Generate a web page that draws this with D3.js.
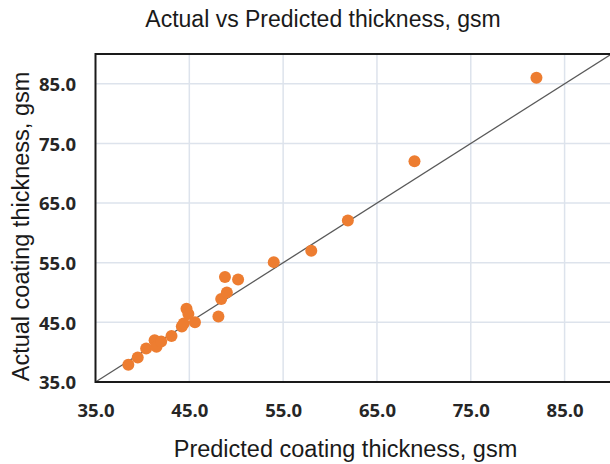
<!DOCTYPE html>
<html>
<head>
<meta charset="utf-8">
<script src="https://cdn.jsdelivr.net/npm/d3@7"></script>
<style>
  body { margin: 0; background: #fff; }
  .tick text { font-family: "Open Sans", "DejaVu Sans", sans-serif; font-weight: bold; font-size: 18.5px; fill: #262626; }
  .title { font-family: "Liberation Sans", Arial, sans-serif; fill: #1a1a1a; }
</style>
</head>
<body>
<div id="chart"></div>
<script>
// predicted vs actual coating thickness (gsm)
var predicted = [38.5, 39.5, 40.4, 41.3, 41.5, 42.0, 43.1, 44.2, 44.4, 44.7, 44.9, 45.6, 48.1, 48.4, 48.8, 49.0, 50.2, 54.0, 58.0, 61.9, 69.0, 82.0];
var actual    = [37.9, 39.1, 40.6, 42.0, 40.9, 41.8, 42.7, 44.3, 44.8, 47.3, 46.4, 45.0, 46.0, 48.9, 52.6, 50.0, 52.2, 55.1, 57.0, 62.1, 72.0, 86.0];
var tickValues = [35, 45, 55, 65, 75, 85];
var axisMin = 35, axisMax = 90;

var svgWidth = 610;
var svgHeight = 464;

var margin = { top: 54, right: -1.5, bottom: 82, left: 95.5 };
var width = svgWidth - margin.left - margin.right;
var height = svgHeight - margin.top - margin.bottom;

var data = predicted.map(function(p, i) { return { x: p, y: actual[i] }; });

var svg = d3.select("#chart")
  .append("svg")
  .attr("width", svgWidth)
  .attr("height", svgHeight);

var chartGroup = svg.append("g")
  .attr("transform", `translate(${margin.left}, ${margin.top})`);

var x = d3.scaleLinear().domain([axisMin, axisMax]).range([0, width]);
var y = d3.scaleLinear().domain([axisMin, axisMax]).range([height, 0]);

// gridlines
chartGroup.append("g").selectAll("line.vg")
  .data(tickValues.slice(1))
  .enter().append("line")
  .attr("x1", d => x(d)).attr("x2", d => x(d))
  .attr("y1", 0).attr("y2", height)
  .attr("stroke", "#dde3ec").attr("stroke-width", 1.5);

chartGroup.append("g").selectAll("line.hg")
  .data(tickValues.slice(1))
  .enter().append("line")
  .attr("x1", 0).attr("x2", width)
  .attr("y1", d => y(d)).attr("y2", d => y(d))
  .attr("stroke", "#dde3ec").attr("stroke-width", 1.5);

// axes (labels only)
var xAxis = chartGroup.append("g")
  .attr("transform", `translate(0, ${height})`)
  .call(d3.axisBottom(x).tickValues(tickValues).tickSize(0).tickFormat(d3.format(".1f")));
xAxis.select(".domain").remove();
xAxis.selectAll(".tick text").attr("dy", null).attr("y", 35);

var yAxis = chartGroup.append("g")
  .call(d3.axisLeft(y).tickValues(tickValues).tickSize(0).tickFormat(d3.format(".1f")));
yAxis.select(".domain").remove();
yAxis.selectAll(".tick text").attr("x", -19.5).attr("dy", "0.36em");

// y = x reference line
chartGroup.append("line")
  .attr("x1", x(axisMin)).attr("y1", y(axisMin))
  .attr("x2", x(axisMax)).attr("y2", y(axisMax))
  .attr("stroke", "#595959").attr("stroke-width", 1.3);

// points
chartGroup.append("g").selectAll("circle")
  .data(data)
  .enter()
  .append("circle")
  .attr("cx", d => x(d.x))
  .attr("cy", d => y(d.y))
  .attr("r", 6)
  .attr("fill", "#ed7d31");

// plot frame
chartGroup.append("rect")
  .attr("x", 0).attr("y", 0)
  .attr("width", width).attr("height", height)
  .attr("fill", "none")
  .attr("stroke", "#1a1a1a")
  .attr("stroke-width", 2);

// titles
svg.append("text")
  .attr("class", "title")
  .attr("x", 323).attr("y", 27)
  .attr("text-anchor", "middle")
  .style("font-size", "23px")
  .text("Actual vs Predicted thickness, gsm");

svg.append("text")
  .attr("class", "title")
  .attr("x", 345.5).attr("y", 457)
  .attr("text-anchor", "middle")
  .style("font-size", "23.5px")
  .text("Predicted coating thickness, gsm");

svg.append("text")
  .attr("class", "title")
  .attr("transform", "translate(29, 226.5) rotate(-90)")
  .attr("text-anchor", "middle")
  .style("font-size", "23.5px")
  .text("Actual coating thickness, gsm");
</script>
</body>
</html>
